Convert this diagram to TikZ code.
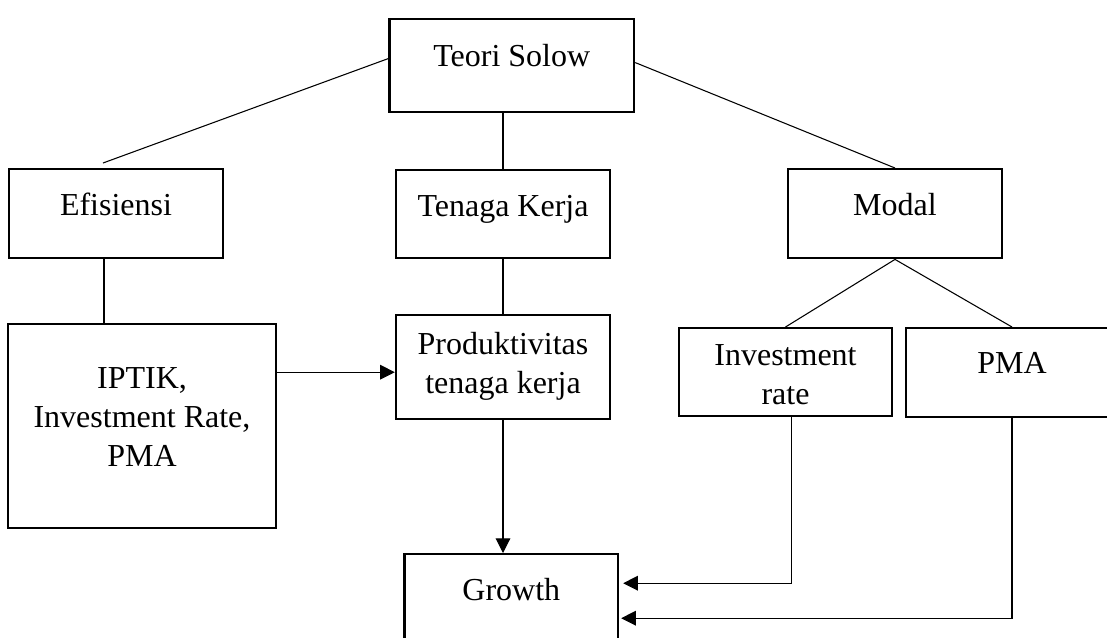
\documentclass[tikz,border=0pt]{standalone}
\usepackage{fontspec}
\setmainfont{Liberation Serif}
\usetikzlibrary{calc,arrows.meta}

\tikzstyle{box} = [draw,line width=1.8pt,anchor=north,align=center,inner sep=0pt,
                   font=\fontsize{24}{29}\selectfont]
\tikzstyle{link} = [line width=0.8pt]
\tikzstyle{arr} = [link,-{Triangle[length=11pt,width=11pt]}]

\begin{document}
\begin{tikzpicture}[x=0.75pt,y=-0.75pt]
  \useasboundingbox (0,0) rectangle (1107,637);
  \clip (0,0) rectangle (1107,637);

  \node[box,minimum width=183.4pt,text height=35.8pt,text depth=33.75pt] at (511.75,18) (solow) {Teori Solow};
  \node[box,minimum width=160.5pt,text height=34.5pt,text depth=32.25pt] at (116,168) (efis) {Efisiensi};
  \node[box,minimum width=160.5pt,text height=34.5pt,text depth=31.5pt] at (503,169) (tenaga) {Tenaga Kerja};
  \node[box,minimum width=160.5pt,text height=34.5pt,text depth=32.25pt] at (895,168) (modal) {Modal};
  \node[box,minimum width=201pt,text height=106.5pt,text depth=46.5pt] at (142,323) (iptik) {IPTIK,\\ Investment Rate,\\ PMA};
  \node[box,minimum width=160.5pt,text height=58.5pt,text depth=19.5pt] at (503,314) (prod) {Produktivitas\\ tenaga kerja};
  \node[box,minimum width=159.75pt,text height=57pt,text depth=9pt] at (785.5,327) (invest) {Investment\\ rate};
  \node[box,minimum width=159pt,text height=33.75pt,text depth=33pt] at (1012,327) (pma) {PMA};
  \node[box,minimum width=160pt,text height=34.5pt,text depth=35.25pt] at (511.3,553) (growth) {Growth};

  \draw[link] ($(solow.west)+(0,-7)$) -- ($(efis.north)+(-13,-5)$);
  \draw[link] (tenaga.north) -- (tenaga.north |- solow.south);
  \draw[link] ($(solow.east)+(0,-3)$) -- (modal.north);
  \draw[link] ($(efis.south)+(-12,0)$) -- ($(iptik.north)+(-38,0)$);
  \draw[link] (tenaga.south) -- (prod.north);
  \draw[link] (modal.south) -- (invest.north);
  \draw[link] (modal.south) -- (pma.north);

  \draw[arr] ($(iptik.east)+(0,-54)$) -- ($(prod.west)+(0,5)$);
  \draw[arr] (prod.south) -- (prod.south |- growth.north);
  \draw[arr] ($(invest.south)+(6,0)$) |- ($(growth.east)+(4,-17.5)$);
  \draw[arr] (pma.south) |- ($(growth.east)+(2,17.5)$);
\end{tikzpicture}
\end{document}
